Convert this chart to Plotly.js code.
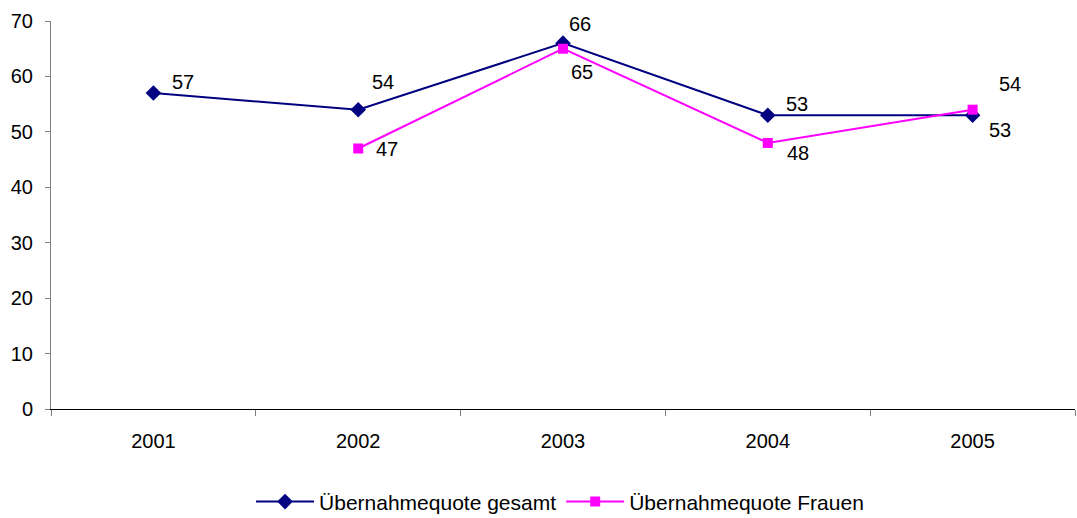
<!DOCTYPE html>
<html><head><meta charset="utf-8">
<script src="https://cdn.plot.ly/plotly-3.0.1.min.js"></script>
<style>body{margin:0;padding:0;background:#fff}#c{width:1077px;height:518px}</style>
</head><body><div id="c"></div>
<script>
const years = ["2001","2002","2003","2004","2005"];
const gesamt = [57, 54, 66, 53, 53];
const frauenYears = ["2002","2003","2004","2005"];
const frauen = [47, 65, 48, 54];
const nameGesamt = "Übernahmequote gesamt";
const nameFrauen = "Übernahmequote Frauen";

// label offsets (style only)
const gShift = [[30,11],[25,28],[17,19],[29,11],[27,-15]];
const fShift = [[29,-1],[19,-23],[30,-10],[37,26]];

const FAM = "Liberation Sans, Arial, sans-serif";
function F(s){return {family:FAM, size:s, color:"#000"};}
const annotations = [];
years.forEach(function(y,i){annotations.push({xref:"x",yref:"y",x:i,y:gesamt[i],text:String(gesamt[i]),showarrow:false,xshift:gShift[i][0],yshift:gShift[i][1],font:F(20)});});
frauenYears.forEach(function(y,i){annotations.push({xref:"x",yref:"y",x:years.indexOf(y),y:frauen[i],text:String(frauen[i]),showarrow:false,xshift:fShift[i][0],yshift:fShift[i][1],font:F(20)});});

const data = [
 {x:years,y:gesamt,name:nameGesamt,type:"scatter",mode:"lines+markers",
  line:{color:"#000080",width:2},marker:{symbol:"diamond",size:12,color:"#000080"}},
 {x:frauenYears,y:frauen,name:nameFrauen,type:"scatter",mode:"lines+markers",
  line:{color:"#FF00FF",width:2},marker:{symbol:"square",size:10,color:"#FF00FF"}}
];
const layout = {
 width:1077,height:518,
 margin:{l:51,r:2,t:21,b:109},
 paper_bgcolor:"#fff",plot_bgcolor:"#fff",
 font:F(20),
 showlegend:true,
 legend:{orientation:"h",xref:"container",yref:"container",x:0.52,xanchor:"center",y:0.031,yanchor:"middle",font:F(21),itemwidth:58},
 xaxis:{type:"category",categoryorder:"array",categoryarray:years,range:[-0.5,4.5],
  tickson:"boundaries",ticks:"outside",ticklen:6,tickcolor:"#808080",tickwidth:1,
  showline:true,linecolor:"#000",linewidth:1,showgrid:false,zeroline:false,
  tickfont:F(20),ticklabelstandoff:14},
 yaxis:{range:[0,70],dtick:10,tick0:0,ticks:"outside",ticklen:5,tickcolor:"#808080",
  showline:true,linecolor:"#808080",linewidth:1,showgrid:false,zeroline:false,tickfont:F(20),ticklabelstandoff:8},
 annotations:annotations
};
Plotly.newPlot("c",data,layout,{displayModeBar:false});
</script></body></html>
